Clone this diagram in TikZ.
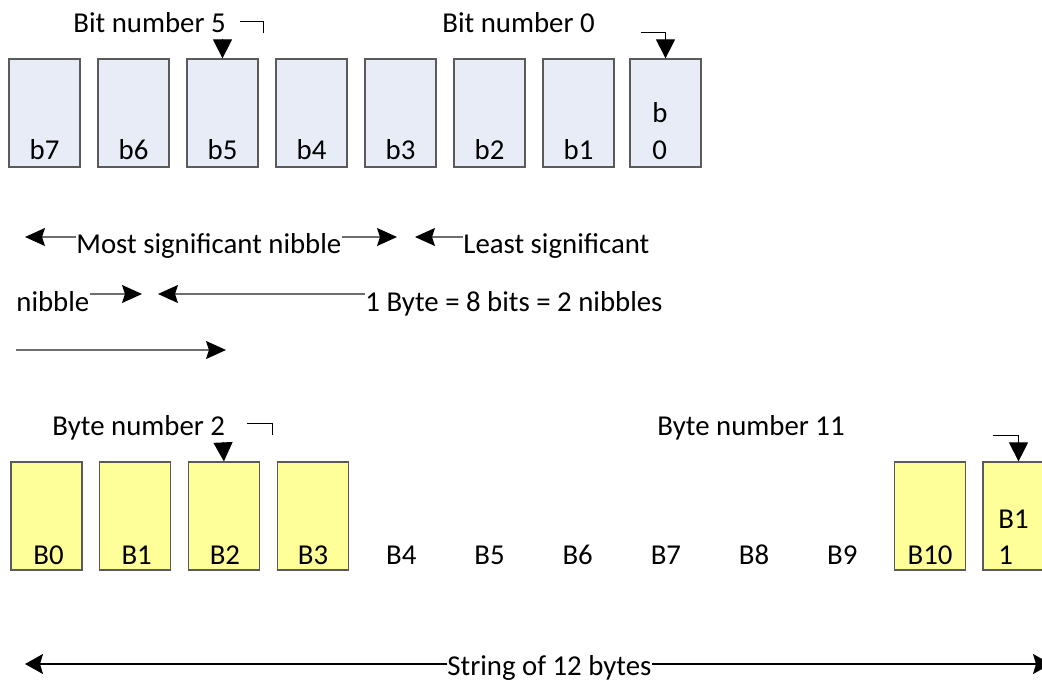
\documentclass[tikz,border=0pt]{standalone}
\usepackage{fontspec}
\setmainfont{Carlito}
\usetikzlibrary{arrows.meta}

\definecolor{bitfill}{HTML}{E7ECF7}
\definecolor{bytefill}{HTML}{FFFF99}
\definecolor{boxline}{HTML}{5A5A5A}
\definecolor{arrline}{HTML}{6E6E6E}

\tikzset{
  bitbox/.style={draw=boxline, line width=0.6pt, fill=bitfill, minimum width=35.5pt, minimum height=54pt, inner sep=0pt},
  bytebox/.style={bitbox, fill=bytefill},
  boxlbl/.style={anchor=base, inner sep=0pt},
  txt/.style={anchor=base west, inner sep=0pt},
  downtip/.style={line width=0.5pt, -{Triangle[length=9.5pt,width=9.5pt]}},
  elbow/.style={line width=0.5pt},
  nibarrow/.style={draw=arrline, line width=0.6pt, -{Stealth[length=10pt,width=9pt,inset=1.5pt,color=black]}},
  strarrow/.style={line width=0.7pt, -{Stealth[length=9pt,width=10pt,inset=1.5pt]}}
}

\begin{document}
\begin{tikzpicture}[x=0.5pt, y=-0.5pt, font=\fontsize{14.4}{17.5}\selectfont]
        \useasboundingbox (0,0) rectangle (1042,683);

        % Bits of one byte
        \foreach \n [count=\k from 0] in {7,6,5,4,3,2,1} {
            \node[bitbox] (b\n) at (44.5+89*\k,113) {};
            \node[boxlbl] (lb\n) at (44.5+89*\k,160) {b\n};
        }
        \node[bitbox] (b0) at (665.5,113) {};
        \node[txt] (lb0a) at (652,123) {b};
        \node[txt] (lb0b) at (652,160) {0};

        % Bit number labels
        \node[txt] (bitfive) at (73,33) {Bit number 5};
        \node[txt] (bitzero) at (442,33) {Bit number 0};
        \coordinate (bf1) at (240,22);
        \coordinate (bf2) at (263,33);
        \draw[elbow] (bf1) -| (bf2);
        \coordinate (bf3) at (222.5,39);
        \draw[downtip] (bf3) -- (b5.north);
        \coordinate (bz1) at (641,33);
        \draw[downtip] (bz1) -| (b0.north);

        % Nibbles
        \node[txt] (msn) at (76,254) {Most significant nibble};
        \node[txt] (lsn) at (463,254) {Least significant};
        \coordinate (ya) at (0,237);
        \coordinate (msnl) at (25,237);
        \coordinate (msnr) at (397,237);
        \coordinate (lsnl) at (415,237);
        \draw[nibarrow] (msn.west |- ya) -- (msnl);
        \draw[nibarrow] (msn.east |- ya) -- (msnr);
        \draw[nibarrow] (lsn.west |- ya) -- (lsnl);

        \node[txt] (nib) at (16,312) {nibble};
        \node[txt] (bytes) at (365,312) {1 Byte = 8 bits = 2 nibbles};
        \coordinate (yb) at (0,294);
        \coordinate (nibr) at (142,294);
        \coordinate (bytesl) at (158,294);
        \draw[nibarrow] (nib.east |- yb) -- (nibr);
        \draw[nibarrow] (bytes.west |- yb) -- (bytesl);
        \coordinate (bytesa) at (16,350);
        \coordinate (bytesr) at (226,350);
        \draw[nibarrow] (bytesa) -- (bytesr);

        % Bytes of the string
        \foreach \n [count=\k from 0] in {0,1,2,3} {
            \node[bytebox] (B\n) at (46.5+88.7*\k,516) {};
        }
        \foreach \n [count=\k from 0] in {0,...,9} {
            \node[boxlbl] (lB\n) at (48.5+88.2*\k,564) {B\n};
        }
        \node[bytebox] (B10) at (930,516) {};
        \node[boxlbl] (lB10) at (930,564) {B10};
        \node[bytebox] (B11) at (1018.5,516) {};
        \node[txt] (lB11a) at (998,528) {B1};
        \node[txt] (lB11b) at (998,564) {1};

        % Byte number labels
        \node[txt] (bytetwo) at (52,435) {Byte number 2};
        \node[txt] (byteeleven) at (657,435) {Byte number 11};
        \coordinate (bt1) at (247,423);
        \coordinate (bt2) at (272,435);
        \draw[elbow] (bt1) -| (bt2);
        \coordinate (bt3) at (223,442);
        \draw[downtip] (bt3) -- (B2.north);
        \coordinate (be1) at (993,435);
        \draw[downtip] (be1) -| (B11.north);

        % String length
        \node[txt] (str) at (447,675) {String of 12 bytes};
        \coordinate (yc) at (0,664);
        \coordinate (strl) at (25,664);
        \coordinate (strr) at (1051,664);
        \draw[strarrow] (str.west |- yc) -- (strl);
        \draw[strarrow] (str.east |- yc) -- (strr);
\end{tikzpicture}
\end{document}
